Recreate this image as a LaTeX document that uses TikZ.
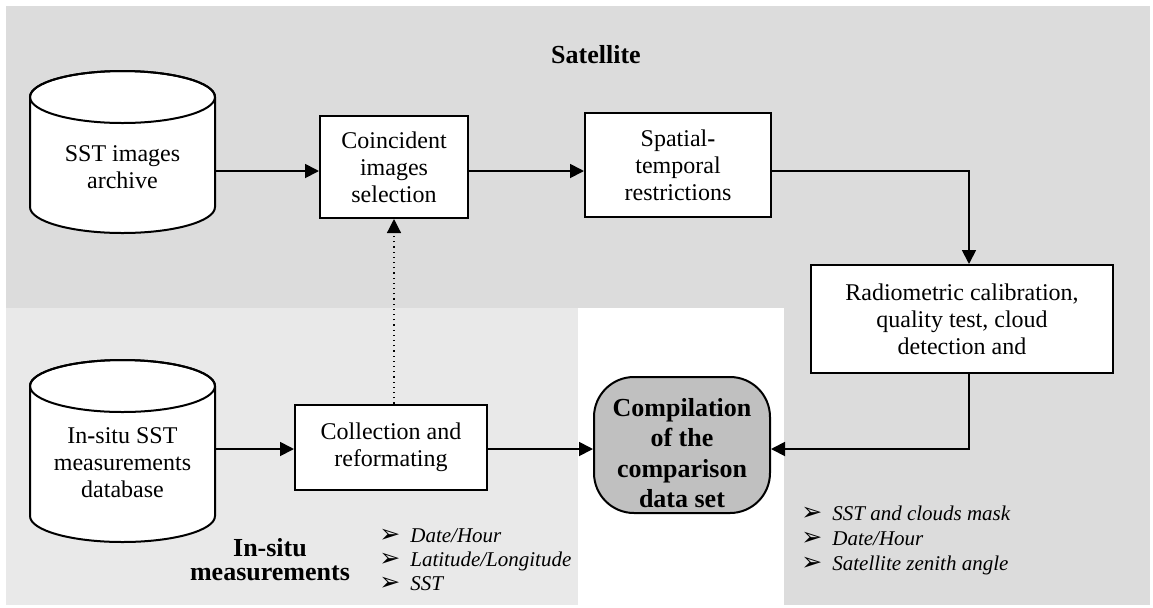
\documentclass[tikz,border=0pt]{standalone}
\usepackage{fontspec}
\setmainfont{Liberation Serif}
\newfontfamily\symfont{DejaVu Sans}
\usetikzlibrary{arrows.meta}
\definecolor{bgdark}{gray}{0.863}
\definecolor{bglight}{gray}{0.914}
\definecolor{compfill}{gray}{0.753}
\tikzset{
  box/.style={draw=black,fill=white,line width=1pt,inner sep=0pt,align=center,
    font=\fontsize{12}{13.5}\selectfont},
  cyltext/.style={inner sep=0pt,align=center,minimum width=92.5pt,
    font=\fontsize{12}{13.5}\selectfont},
  comp/.style={draw=black,fill=compfill,line width=1pt,rounded corners=20pt,
    inner sep=0pt,minimum width=88pt,minimum height=68pt},
  comptext/.style={inner sep=0pt,align=center,
    font=\bfseries\fontsize{13}{15.3}\selectfont},
  cyl/.style={draw=black,fill=white,line width=1pt},
  arr/.style={line width=0.9pt,-{Triangle[length=7pt,width=7pt]}},
  dotarr/.style={line width=0.6pt,dotted,-{Triangle[length=7pt,width=7pt]}},
  heading/.style={font=\bfseries\fontsize{13}{12}\selectfont,align=center,inner sep=0pt},
  bullet/.style={anchor=base west,inner sep=0pt,font=\itshape\fontsize{10.5}{12.25}\selectfont},
}
\newcommand{\bul}{{\symfont\upshape\fontsize{12.5}{12}\selectfont ➢}\hspace{5pt}}
\begin{document}
\begin{tikzpicture}[x=0.5pt,y=-0.5pt]
\useasboundingbox (0,0) rectangle (1153,607);
% backgrounds
\fill[bgdark] (6,6) rectangle (1150,605);
\fill[bglight] (6,308) rectangle (578,605);
\fill[white] (578,308) rectangle (784,607);

% cylinders
\path[cyl] (30,97) -- (30,207) arc[start angle=180,end angle=0,x radius=92.5,y radius=26]
  -- (215,97) arc[start angle=0,end angle=-180,x radius=92.5,y radius=26] -- cycle;
\draw[line width=1pt] (122.5,97) ellipse[x radius=92.5,y radius=26];
\path[cyl] (30,386) -- (30,516) arc[start angle=180,end angle=0,x radius=92.5,y radius=26]
  -- (215,386) arc[start angle=0,end angle=-180,x radius=92.5,y radius=26] -- cycle;
\draw[line width=1pt] (122.5,386) ellipse[x radius=92.5,y radius=26];

\node[cyltext] (archive) at (122.5,167) {SST images\\archive};
\node[cyltext] (insitu) at (122.5,463) {In\textbf{-}situ SST\\measurements\\database};

% boxes
\node[box,minimum width=74pt,minimum height=51pt] (coinc) at (394,167) {Coincident\\images\\selection};
\node[box,minimum width=93pt,minimum height=52pt] (spat) at (678,165) {Spatial\textbf{-}\\temporal\\restrictions};
\node[box,minimum width=151pt,minimum height=54pt] (radio) at (962,319) {Radiometric calibration,\\quality test, cloud\\detection and};
\node[box,minimum width=96pt,minimum height=42.5pt] (coll) at (391,447) {Collection and\\reformating};
\node[comp] (compil) at (682,445) {};
\node[comptext] (compiltext) at (682,453) {Compilation\\of the\\comparison\\data set};

% headings
\node[heading] (satlbl) at (596,55) {Satellite};
\node[heading] (inslbl) at (270,560) {In-situ\\measurements};

% bullet lists
\node[bullet] (la) at (379,542) {\bul Date/Hour};
\node[bullet] (lb) at (379,566) {\bul Latitude/Longitude};
\node[bullet] (lc) at (379,590) {\bul SST};
\node[bullet] (ra) at (801,520) {\bul SST and clouds mask};
\node[bullet] (rb) at (801,545) {\bul Date/Hour};
\node[bullet] (rc) at (801,570) {\bul Satellite zenith angle};

% connectors
\coordinate (r1) at (0,171);
\coordinate (r2) at (0,449);
\coordinate (vx) at (969,0);
\draw[arr] (archive.east |- r1) -- (coinc.west |- r1);
\draw[arr] (coinc.east |- r1) -- (spat.west |- r1);
\draw[arr] (spat.east |- r1) -- (vx |- r1) -- (vx |- radio.north);
\draw[arr] (vx |- radio.south) -- (vx |- r2) -- (compil.east |- r2);
\draw[arr] (insitu.east |- r2) -- (coll.west |- r2);
\draw[arr] (coll.east |- r2) -- (compil.west |- r2);
\draw[dotarr] (coinc.south |- coll.north) -- (coinc.south);
\end{tikzpicture}
\end{document}
